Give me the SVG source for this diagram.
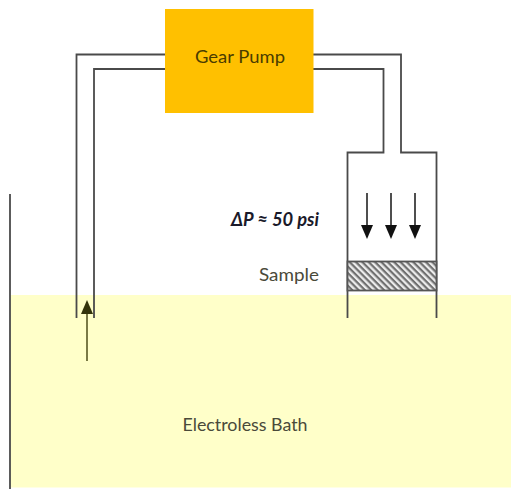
<svg xmlns="http://www.w3.org/2000/svg" width="511" height="489" viewBox="0 0 511 489">
<style>
.ln{fill:none;stroke:#4a4a4a;stroke-width:1.8}
.ar{fill:none;stroke:#3c3c3c;stroke-width:1.8}
.ah{fill:#111}
text{font-family:Lato,"Open Sans","Liberation Sans",sans-serif;font-size:18px;fill:#4a4a3a}
</style>
<defs>
<pattern id="hatch" width="4.500" height="4.500" patternUnits="userSpaceOnUse" patternTransform="rotate(45)">
<rect width="4.500" height="4.500" fill="#ececec"/>
<rect width="4.500" height="2.200" fill="#707070"/>
</pattern>
</defs>
<rect width="511" height="489" fill="#fff"/>
<g id="bath">
<rect x="10" y="295" width="501" height="192.500" fill="#ffffc9"/>
<text x="245" y="431" text-anchor="middle" textLength="125" lengthAdjust="spacingAndGlyphs">Electroless Bath</text>
</g>
<g id="connectors">
<path class="ln" d="M10 194V489"/>
<path class="ln" d="M166 54.500H76.500V318"/>
<path class="ln" d="M166 69H94V318"/>
<path class="ln" d="M312 54.500H401V152.500H436.500V318"/>
<path class="ln" d="M312 69H383.500V152.500H347.500V318"/>
<path class="ar" d="M367 193V230"/>
<path class="ar" d="M391 193V230"/>
<path class="ar" d="M415 193V230"/>
<path class="ah" d="M361 225H373L367 239Z"/>
<path class="ah" d="M385 225H397L391 239Z"/>
<path class="ah" d="M409 225H421L415 239Z"/>
<path d="M87 361V310" fill="none" stroke="#7a7a45" stroke-width="2"/>
<path d="M81 314H93L87 300Z" fill="#33330a"/>
</g>
<g id="pump">
<rect x="165" y="9" width="148.500" height="104" fill="#ffc000"/>
<text x="240" y="63" text-anchor="middle" textLength="90" lengthAdjust="spacingAndGlyphs" style="fill:#4a3c00">Gear Pump</text>
</g>
<g id="sample">
<rect x="347.500" y="261.500" width="89" height="29" fill="url(#hatch)" stroke="#555" stroke-width="1.800"/>
<text x="289" y="281" text-anchor="middle" textLength="60" lengthAdjust="spacingAndGlyphs">Sample</text>
</g>
<g id="pressure">
<text x="275" y="226" text-anchor="middle" textLength="88" lengthAdjust="spacingAndGlyphs" font-weight="700" font-style="italic" style="fill:#1a1a2a">ΔP ≈ 50 psi</text>
</g>
</svg>
